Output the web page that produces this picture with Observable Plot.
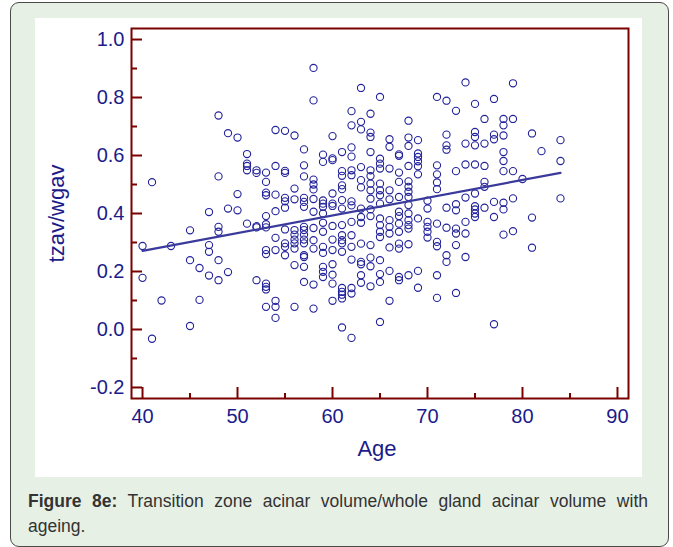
<!DOCTYPE html>
<html><head><meta charset="utf-8">
<script src="https://cdn.jsdelivr.net/npm/d3@7"></script>
<script src="https://cdn.jsdelivr.net/npm/@observablehq/plot@0.6"></script>
<style>
body{margin:0;width:673px;height:547px;background:#fff;position:relative;overflow:hidden;font-family:"Liberation Sans",Arial,sans-serif}
#box{position:absolute;left:10px;top:2px;width:659px;height:545px;box-sizing:border-box;border:1.5px solid #4a4a4a;border-radius:9px;background:#e7f0e5}
#panel{position:absolute;left:35px;top:18px;width:607px;height:459px;background:#fff}
#cap{position:absolute;left:28px;top:489px;width:620px;font-size:17.5px;line-height:25px;color:#333;text-align:justify}
</style></head><body>
<div id="box"></div><div id="panel"></div>
<div id="cap"><b>Figure 8e:</b> Transition zone acinar volume/whole gland acinar volume with ageing.</div>
<script>
const ageColumns = [40,41,42,43,45,46,47,48,49,50,51,52,53,54,55,56,57,58,59,60,61,62,63,64,65,66,67,68,69,70,71,72,73,74,75,76,77,78,79,80,81,82,84];
const ratioColumns = [
 [0.288,0.178],
 [0.508,-0.032],
 [0.100],
 [0.288],
 [0.342,0.239,0.012],
 [0.212,0.102],
 [0.405,0.291,0.268,0.186],
 [0.738,0.528,0.354,0.337,0.239,0.170],
 [0.677,0.417,0.198],
 [0.662,0.467,0.411],
 [0.605,0.572,0.564,0.549,0.365],
 [0.549,0.540,0.356,0.352,0.170],
 [0.541,0.509,0.472,0.463,0.391,0.363,0.352,0.274,0.260,0.158,0.147,0.138,0.078],
 [0.688,0.564,0.465,0.408,0.316,0.274,0.099,0.078,0.040],
 [0.685,0.547,0.540,0.454,0.442,0.420,0.345,0.297,0.285,0.256],
 [0.669,0.486,0.449,0.343,0.327,0.310,0.297,0.279,0.222,0.078],
 [0.621,0.566,0.528,0.454,0.440,0.423,0.354,0.343,0.327,0.310,0.297,0.256,0.250,0.216,0.164],
 [0.902,0.790,0.517,0.500,0.483,0.450,0.406,0.350,0.308,0.279,0.155,0.072],
 [0.603,0.578,0.445,0.434,0.423,0.400,0.368,0.337,0.285,0.264,0.216,0.199,0.181],
 [0.667,0.590,0.584,0.469,0.434,0.426,0.357,0.310,0.274,0.225,0.189,0.158,0.099],
 [0.612,0.546,0.530,0.497,0.484,0.446,0.417,0.360,0.325,0.308,0.297,0.268,0.143,0.130,0.120,0.107,0.007],
 [0.753,0.704,0.628,0.596,0.549,0.532,0.442,0.428,0.371,0.325,0.285,0.241,0.143,0.124,-0.029],
 [0.833,0.716,0.690,0.560,0.515,0.490,0.417,0.388,0.368,0.296,0.233,0.225,0.187,0.161],
 [0.744,0.679,0.664,0.612,0.549,0.529,0.503,0.480,0.451,0.414,0.391,0.291,0.248,0.218,0.149],
 [0.802,0.589,0.572,0.555,0.503,0.480,0.463,0.434,0.383,0.360,0.337,0.319,0.239,0.191,0.164,0.026],
 [0.656,0.630,0.555,0.480,0.449,0.377,0.354,0.331,0.283,0.202,0.099],
 [0.604,0.599,0.541,0.509,0.457,0.406,0.391,0.365,0.337,0.296,0.279,0.181,0.170],
 [0.720,0.662,0.633,0.564,0.511,0.492,0.475,0.457,0.429,0.400,0.377,0.360,0.348,0.294,0.187],
 [0.653,0.607,0.595,0.580,0.563,0.535,0.383,0.202,0.144],
 [0.444,0.417,0.371,0.354,0.337,0.317],
 [0.802,0.566,0.535,0.507,0.484,0.365,0.302,0.287,0.187,0.109],
 [0.789,0.672,0.635,0.620,0.420,0.351,0.256,0.233],
 [0.754,0.546,0.432,0.411,0.348,0.331,0.291,0.126],
 [0.852,0.641,0.569,0.455,0.371,0.331,0.250],
 [0.778,0.681,0.664,0.635,0.569,0.469,0.425,0.414,0.400,0.388],
 [0.726,0.641,0.564,0.509,0.492,0.420],
 [0.795,0.672,0.656,0.440,0.388,0.018],
 [0.726,0.704,0.669,0.612,0.581,0.546,0.437,0.414,0.327],
 [0.849,0.726,0.546,0.452,0.339],
 [0.519],
 [0.676,0.386,0.282],
 [0.615],
 [0.653,0.581,0.452]
];
const fitAge = [40, 84];
const fitRatio = [0.271, 0.540];
const xMajor = [40,50,60,70,80,90];
const xMinor = [45,55,65,75,85];
const yMajor = [-0.2,0,0.2,0.4,0.6,0.8,1.0];
const yMinor = [-0.1,0.1,0.3,0.5,0.7,0.9];

const points = ageColumns.flatMap((a,i)=>ratioColumns[i].map(v=>({age:a, ratio:v})));
const fit = fitAge.map((a,i)=>({age:a, ratio:fitRatio[i]}));

const W=607, H=459, mL=96, mT=10, mR=14, mB=79;
const plotW=W-mL-mR, plotH=H-mT-mB;
const navy="#1b1b8a", red="#7b0000";

const chart = Plot.plot({
  width:W, height:H, marginLeft:mL, marginTop:mT, marginRight:mR, marginBottom:mB,
  x:{domain:[38.84,91.16]},
  y:{domain:[-0.238,1.038]},
  style:{fontFamily:"'Liberation Sans', Arial, sans-serif", color:navy, background:"white", overflow:"visible"},
  marks:[
    Plot.dot(points,{x:"age", y:"ratio", r:3.6, stroke:"#22229a", strokeWidth:1.1, fill:"none"}),
    Plot.line(fit,{x:"age", y:"ratio", stroke:"#3a3a9c", strokeWidth:2.2}),
    Plot.tickY(yMajor,{y:d=>d, stroke:red, strokeWidth:2, insetRight:plotW-11}),
    Plot.tickY(yMinor,{y:d=>d, stroke:red, strokeWidth:2, insetRight:plotW-6}),
    Plot.tickX(xMajor,{x:d=>d, stroke:red, strokeWidth:2, insetTop:plotH-11}),
    Plot.tickX(xMinor,{x:d=>d, stroke:red, strokeWidth:2, insetTop:plotH-5}),
    Plot.frame({stroke:red, strokeWidth:2}),
    Plot.axisY({ticks:yMajor, tickSize:0, tickPadding:7, tickFormat:d=>d.toFixed(1), fontSize:20, label:null}),
    Plot.axisX({ticks:xMajor, tickSize:0, tickPadding:10, tickFormat:d=>String(d), fontSize:20, label:null}),
    Plot.text(["Age"],{frameAnchor:"bottom", dy:42, dx:-3, lineAnchor:"top", fontSize:22}),
    Plot.text(["tzav/wgav"],{frameAnchor:"left", textAnchor:"middle", rotate:-90, dx:-75, fontSize:22})
  ]
});
document.getElementById("panel").appendChild(chart);
</script>
</body></html>
